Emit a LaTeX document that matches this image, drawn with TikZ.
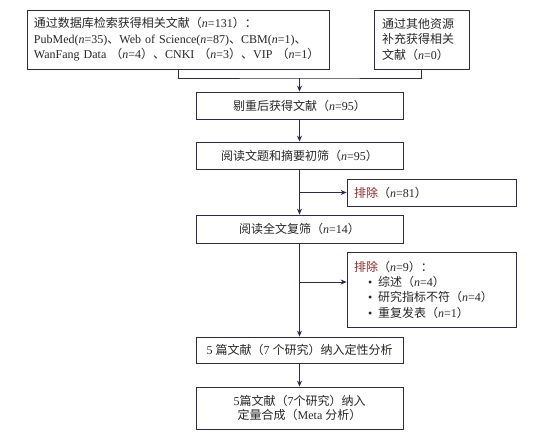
\documentclass[tikz,border=0pt]{standalone}
\usepackage{fontspec}
\setmainfont{Liberation Serif}
\newfontfamily\cjk{Noto Sans CJK SC}
\usetikzlibrary{arrows.meta}
\usetikzlibrary{positioning}
\definecolor{linecol}{HTML}{2E2A48}
\definecolor{exred}{HTML}{8A2A2A}
\newcommand{\zh}[1]{{\cjk #1}}
\newcommand{\nn}{\textit{n}}

\begin{document}
\begin{tikzpicture}[x=1pt, y=-1pt,
  every node/.style={font=\fontsize{12}{15.5}\selectfont, text=black!85},
  box/.style={rectangle, draw=linecol, line width=0.8pt, inner sep=0pt, align=center},
  flow/.style={draw=linecol, line width=0.8pt},
  arrow/.style={flow, -{Stealth[length=6pt, width=5pt]}}]
  % canvas
  \useasboundingbox (0,0) rectangle (544,435);

  % sources
  \node[box, minimum width=302pt, minimum height=59pt, text width=288pt, align=left] (search) at (178,39.5)
    {\zh{通过数据库检索获得相关文献（}\nn=131\zh{）：}\\
     PubMed(\nn=35)\zh{、}Web of Science(\nn=87)\zh{、}CBM(\nn=1)\zh{、}\\
     WanFang Data \zh{（}\nn=4\zh{）、}CNKI \zh{（}\nn=3\zh{）、}VIP \zh{（}\nn=1\zh{）}};
  \node[box, minimum width=95pt, minimum height=59pt, text width=79pt, align=left] (other) at (421.5,39.5)
    {\zh{通过其他资源}\\ \zh{补充获得相关}\\ \zh{文献（}\nn=0\zh{）}};

  % main flow
  \node[box, minimum width=207pt, minimum height=27pt] (dedup) at (299.5,105.5)
    {\zh{剔重后获得文献（}\nn=95\zh{）}};
  \node[box, minimum width=207pt, minimum height=27pt] (title) at (299.5,155.5)
    {\zh{阅读文题和摘要初筛（}\nn=95\zh{）}};
  \node[box, minimum width=207pt, minimum height=28pt] (full) at (299.5,229)
    {\zh{阅读全文复筛（}\nn=14\zh{）}};
  \node[box, minimum width=207pt, minimum height=26pt] (qual) at (299.5,350)
    {5 \zh{篇文献（}7 \zh{个研究）纳入定性分析}};
  \node[box, minimum width=207pt, minimum height=42pt, font=\fontsize{12}{14.5}\selectfont] (quant) at (299.5,408)
    {5\zh{篇文献（}7\zh{个研究）纳入}\\ \zh{定量合成（}Meta \zh{分析）}};

  % exclusions
  \node[box, minimum width=169pt, minimum height=27pt, text width=155pt, align=left] (excl1) at (431.5,192.5)
    {\textcolor{exred}{\zh{排除}}\zh{（}\nn=81\zh{）}};
  \node[box, minimum width=169pt, minimum height=75pt, text width=155pt, align=left, font=\fontsize{12}{15.3}\selectfont] (excl2) at (431.5,289.5)
    {\textcolor{exred}{\zh{排除}}\zh{（}\nn=9\zh{）：}\\
     \hspace*{14pt}\textbullet\hspace{6pt}\zh{综述（}\nn=4\zh{）}\\
     \hspace*{14pt}\textbullet\hspace{6pt}\zh{研究指标不符（}\nn=4\zh{）}\\
     \hspace*{14pt}\textbullet\hspace{6pt}\zh{重复发表（}\nn=1\zh{）}};

  % connectors
  \coordinate (merge) at (299.5,78);
  \draw[flow] (search.south) |- (merge) -| (other.south);
  \draw[arrow] (merge) -- (dedup.north);
  \draw[arrow] (dedup) -- (title);
  \draw[arrow] (title) -- (full);
  \draw[arrow] (full) -- (qual);
  \draw[arrow] (qual) -- (quant);

  \coordinate (split1) at (299.5,192.5);
  \coordinate (split2) at (299.5,282);
  \draw[arrow] (split1) -- (excl1.west);
  \draw[arrow] (split2) -- (excl2.west |- split2);
\end{tikzpicture}
\end{document}
